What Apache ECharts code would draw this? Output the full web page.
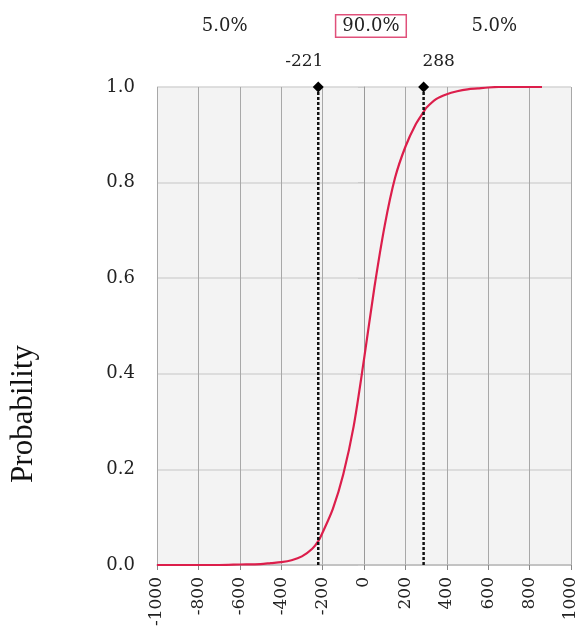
<!DOCTYPE html>
<html><head><meta charset="utf-8">
<script src="https://cdn.jsdelivr.net/npm/echarts@6/dist/echarts.min.js"></script>
<style>html,body{margin:0;padding:0;background:#fff}#c{width:580px;height:634px}</style>
</head><body><div id="c"></div>
<script>
// Cumulative probability curve
var xValues = [-1000, -800, -700, -600, -500, -450, -400, -350, -300, -250, -221, -200, -150, -100, -50, 0, 50, 100, 150, 200, 250, 288, 300, 350, 400, 450, 500, 550, 600, 650, 700, 860];
var probValues = [0, 0, 0, 0.001, 0.002, 0.004, 0.006, 0.01, 0.018, 0.034, 0.05, 0.068, 0.118, 0.19, 0.29, 0.43, 0.58, 0.71, 0.81, 0.875, 0.922, 0.948, 0.956, 0.975, 0.985, 0.991, 0.995, 0.997, 0.999, 1, 1, 1];
var cutLow = -221;
var cutHigh = 288;
var regionLabels = ['5.0%', '90.0%', '5.0%'];
var xTicks = [-1000, -800, -600, -400, -200, 0, 200, 400, 600, 800, 1000];
var yTicks = [0, 0.2, 0.4, 0.6, 0.8, 1.0];

var serif = 'DejaVu Serif';
var curve = xValues.map(function (x, i) { return [x, probValues[i]]; });

function cutSeries(v, dx) {
  return {
    type: 'line',
    data: [{ value: [v, 0], symbol: 'none' }, { value: [v, 1], symbol: 'diamond', symbolSize: 11,
      label: { show: true, position: 'top', distance: 11, offset: [dx, 0], formatter: String(v), fontFamily: serif, fontSize: 17, color: '#222' } }],
    lineStyle: { color: '#111', width: 2.5, type: [3, 2] },
    itemStyle: { color: '#000' },
    silent: true, z: 4
  };
}

var chart = echarts.init(document.getElementById('c'));
chart.setOption({
  animation: false,
  grid: { left: 157, right: 9, top: 87, bottom: 69, show: true, backgroundColor: '#f3f3f3', borderWidth: 0 },
  xAxis: {
    type: 'value', min: xTicks[0], max: xTicks[xTicks.length - 1], interval: 200,
    axisLine: { show: true, lineStyle: { color: '#bbb', width: 1.5 } },
    axisTick: { show: true, length: 5, lineStyle: { color: '#888' } },
    axisLabel: { rotate: 90, margin: 12, fontFamily: serif, fontSize: 17, color: '#222',
      formatter: function (v) { return String(v); } },
    splitLine: { show: true, lineStyle: { color: '#a8a8a8', width: 1 } }
  },
  yAxis: {
    type: 'value', min: yTicks[0], max: yTicks[yTicks.length - 1], interval: 0.2,
    axisLine: { show: true, lineStyle: { color: '#999', width: 1 } },
    axisTick: { show: true, length: 6, lineStyle: { color: '#ccc' } },
    axisLabel: { margin: 22, fontFamily: serif, fontSize: 18, color: '#222', formatter: function (v) { return v.toFixed(1); } },
    splitLine: { show: true, lineStyle: { color: '#d4d4d4', width: 1.5 } }
  },
  series: [
    { type: 'line', data: curve, smooth: 0.3, showSymbol: false, symbol: 'none',
      lineStyle: { color: '#dc1e4b', width: 2.2 }, z: 3, silent: true },
    cutSeries(cutLow, -14),
    cutSeries(cutHigh, 15)
  ]
});

// region labels placed at the middle of each region (converted from data)
var lo = chart.convertToPixel({ gridIndex: 0 }, [xTicks[0], 1]);
var a = chart.convertToPixel({ gridIndex: 0 }, [cutLow, 1]);
var b = chart.convertToPixel({ gridIndex: 0 }, [cutHigh, 1]);
var hi = chart.convertToPixel({ gridIndex: 0 }, [xTicks[xTicks.length - 1], 1]);
var yTop = 26;
function txt(x, s, boxed) {
  var st = { text: s, fontFamily: serif, fontSize: 18, fill: '#222', align: 'center', verticalAlign: 'middle' };
  if (boxed) { st.backgroundColor = '#fff'; st.borderColor = '#e0507a'; st.borderWidth = 1.5; st.padding = [2, 6, 1, 6]; }
  return { type: 'text', x: x, y: yTop, style: st, z: 10 };
}
chart.setOption({
  graphic: [
    txt((lo[0] + a[0]) / 2 - 13, regionLabels[0]),
    txt((a[0] + b[0]) / 2, regionLabels[1], true),
    txt((b[0] + hi[0]) / 2 - 3, regionLabels[2]),
    { type: 'text', x: 24, y: 414, rotation: Math.PI / 2,
      style: { text: 'Probability', fontFamily: 'Liberation Serif', fontSize: 31, fill: '#111', align: 'center', verticalAlign: 'middle' } }
  ]
});
</script></body></html>
